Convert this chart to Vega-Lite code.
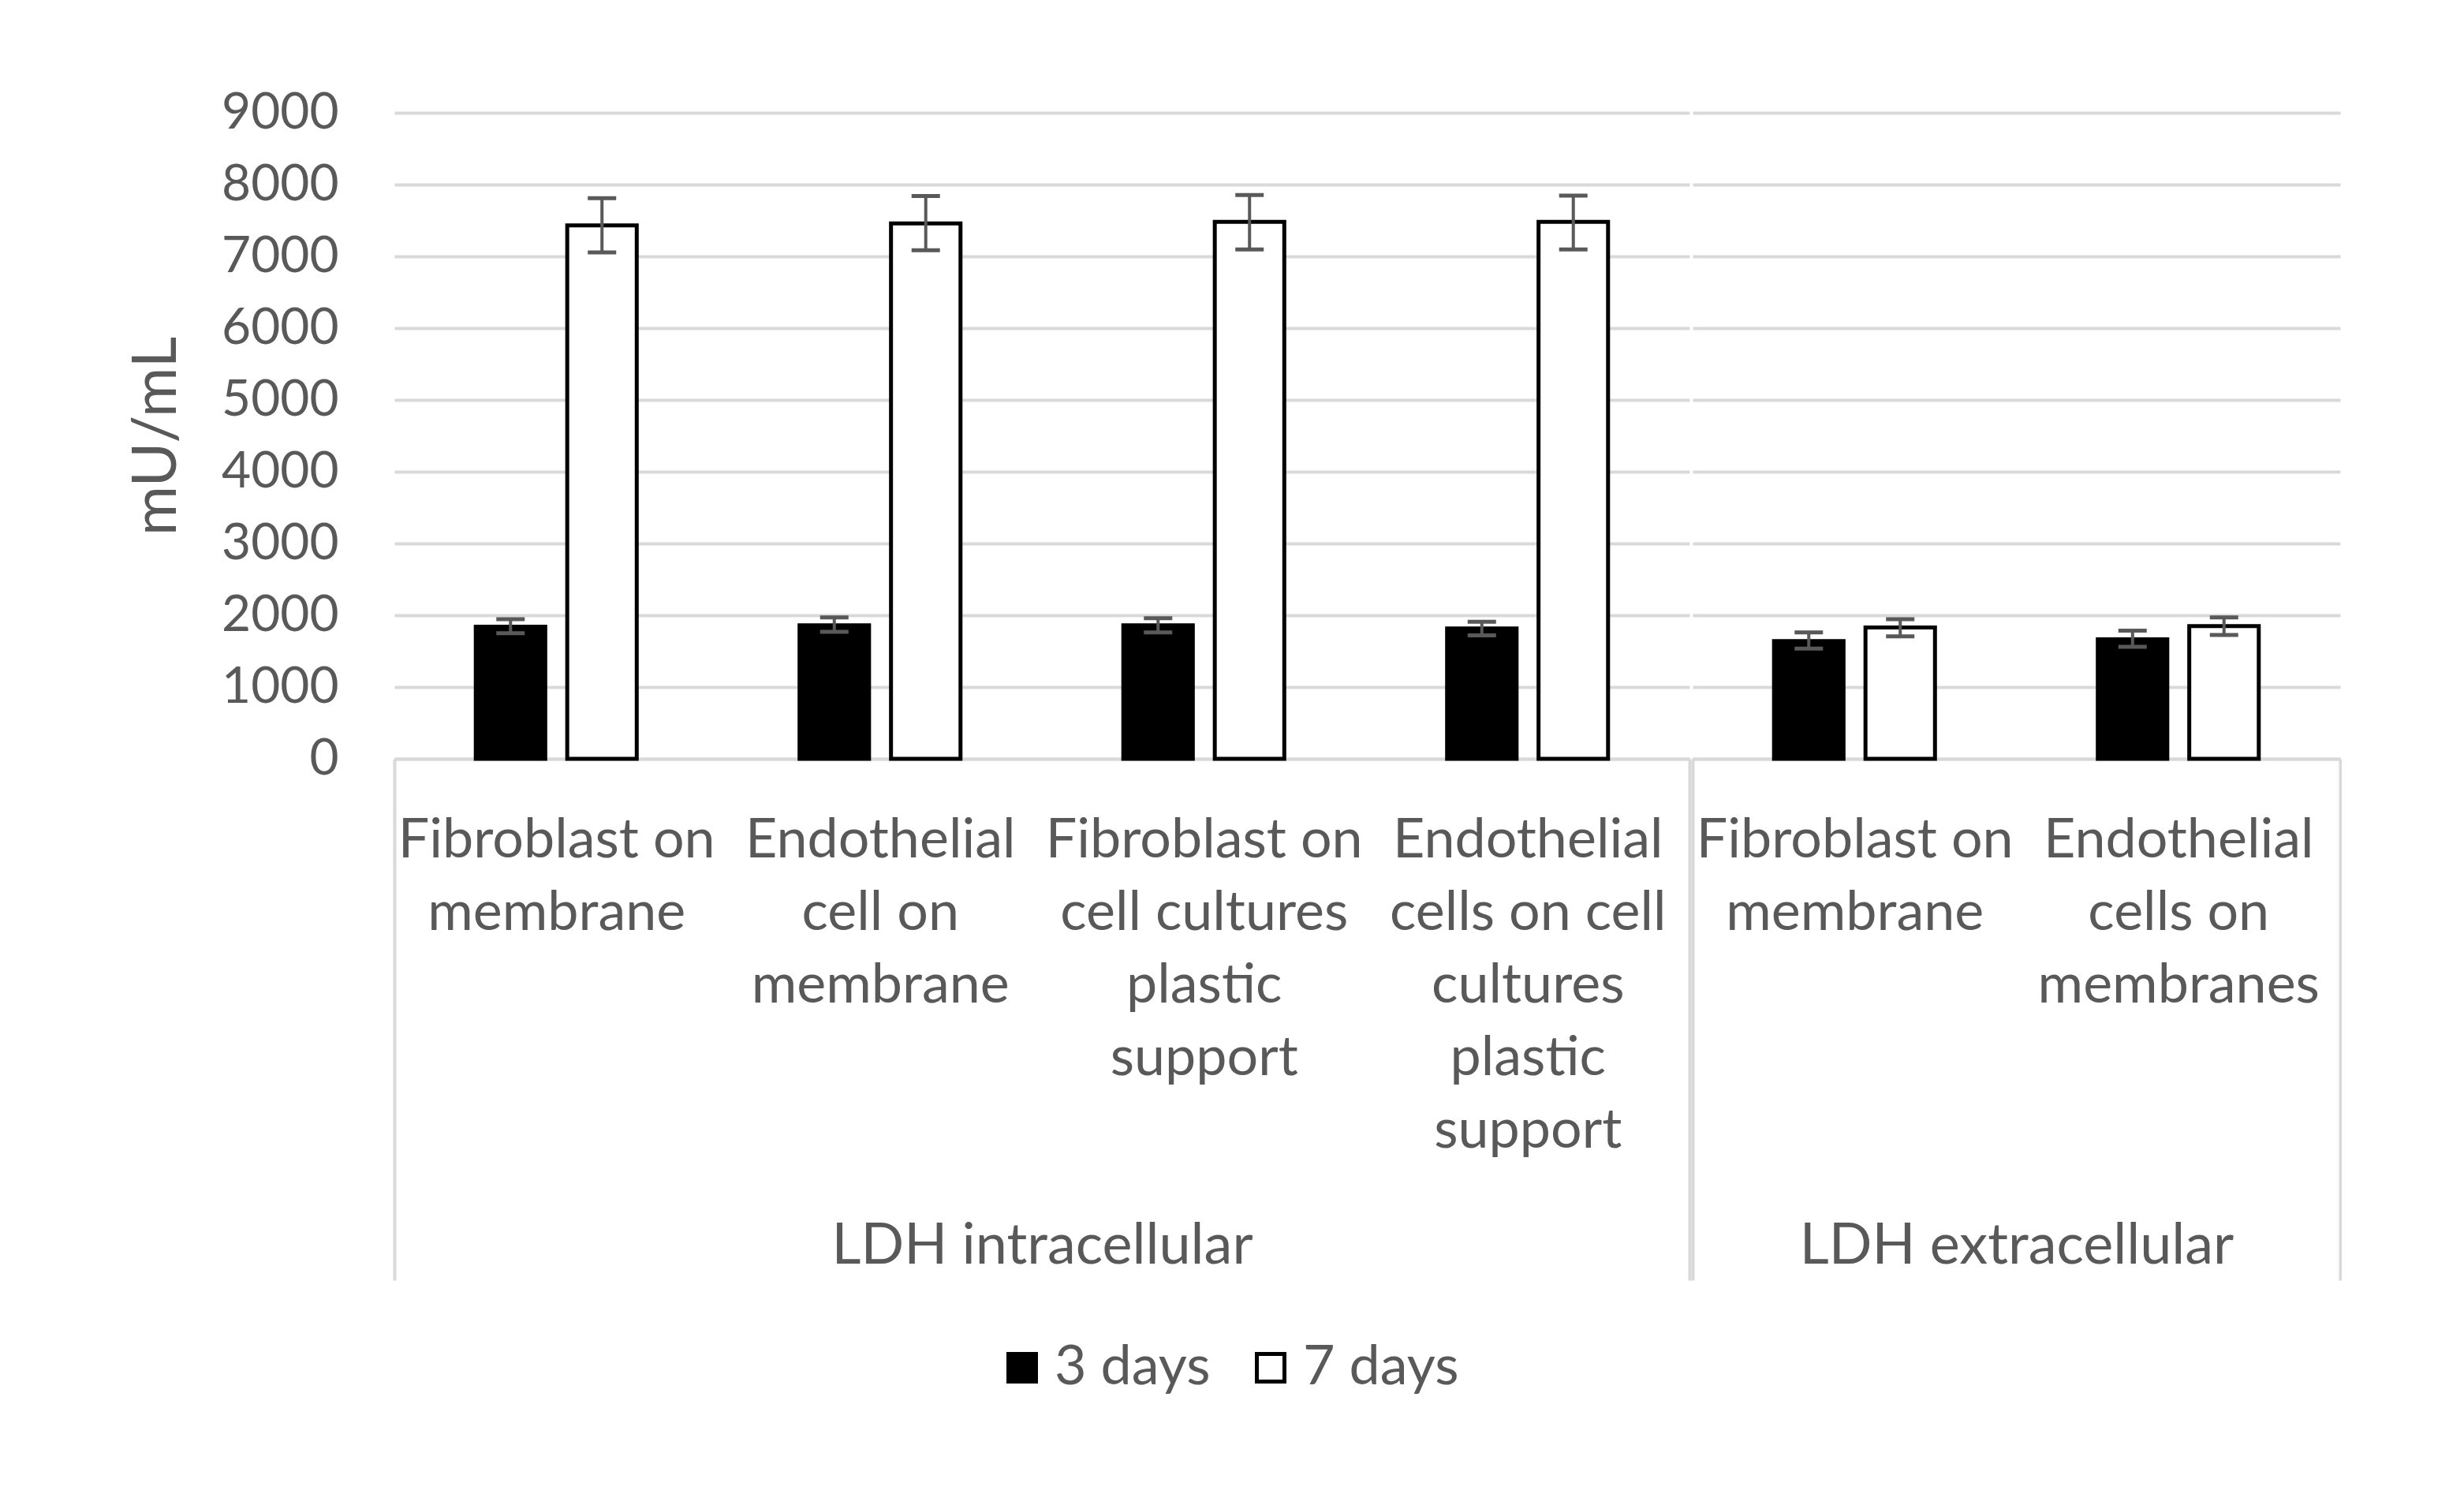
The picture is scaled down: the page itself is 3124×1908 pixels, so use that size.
{
  "$schema": "https://vega.github.io/schema/vega-lite/v6.json",
  "background": "white",
  "padding": {"left": 160, "top": 111, "right": 0, "bottom": 0},
  "data": {
    "values": [
      {"group": "LDH intracellular", "cat": "1|Fibroblast on|membrane", "series": "3 days", "value": 1840, "lower": 1750, "upper": 1945},
      {"group": "LDH intracellular", "cat": "1|Fibroblast on|membrane", "series": "7 days", "value": 7430, "lower": 7055, "upper": 7810},
      {"group": "LDH intracellular", "cat": "2|Endothelial|cell on|membrane", "series": "3 days", "value": 1860, "lower": 1770, "upper": 1970},
      {"group": "LDH intracellular", "cat": "2|Endothelial|cell on|membrane", "series": "7 days", "value": 7460, "lower": 7085, "upper": 7840},
      {"group": "LDH intracellular", "cat": "3|Fibroblast on|cell cultures|plastic|support", "series": "3 days", "value": 1860, "lower": 1760, "upper": 1960},
      {"group": "LDH intracellular", "cat": "3|Fibroblast on|cell cultures|plastic|support", "series": "7 days", "value": 7480, "lower": 7095, "upper": 7855},
      {"group": "LDH intracellular", "cat": "4|Endothelial|cells on cell|cultures|plastic|support", "series": "3 days", "value": 1815, "lower": 1720, "upper": 1910},
      {"group": "LDH intracellular", "cat": "4|Endothelial|cells on cell|cultures|plastic|support", "series": "7 days", "value": 7480, "lower": 7095, "upper": 7845},
      {"group": "LDH extracellular", "cat": "5|Fibroblast on|membrane", "series": "3 days", "value": 1640, "lower": 1535, "upper": 1760},
      {"group": "LDH extracellular", "cat": "5|Fibroblast on|membrane", "series": "7 days", "value": 1830, "lower": 1705, "upper": 1945},
      {"group": "LDH extracellular", "cat": "6|Endothelial|cells on|membranes", "series": "3 days", "value": 1665, "lower": 1560, "upper": 1785},
      {"group": "LDH extracellular", "cat": "6|Endothelial|cells on|membranes", "series": "7 days", "value": 1850, "lower": 1725, "upper": 1970}
    ]
  },
  "spacing": 0,
  "hconcat": [
    {
      "width": 1642,
      "height": 819,
      "transform": [{"filter": "datum.group === 'LDH intracellular'"}],
      "encoding": {
        "x": {
          "field": "cat", "type": "nominal", "sort": null,
          "scale": {"paddingInner": 0, "paddingOuter": 0},
          "title": "LDH intracellular",
          "axis": {
            "tickColor": {"condition": {"test": "!isValid(datum.value) || slice(datum.value, 0, 1) === '4'", "value": "#d9d9d9"}, "value": "rgba(0,0,0,0)"}
          }
        },
        "xOffset": {"field": "series", "type": "nominal", "scale": {"paddingInner": 0.24, "paddingOuter": 0.89}}
      },
      "layer": [
        {
          "mark": {"type": "bar", "stroke": "black", "strokeWidth": 5},
          "encoding": {
            "y": {"field": "value", "type": "quantitative", "scale": {"domain": [0, 9000]}, "title": "mU/mL",
                  "axis": {"values": [0, 1000, 2000, 3000, 4000, 5000, 6000, 7000, 8000, 9000], "format": "d"}},
            "fill": {"field": "series", "type": "nominal", "scale": {"domain": ["3 days", "7 days"], "range": ["#000000", "#ffffff"]}, "title": null}
          }
        },
        {
          "mark": {"type": "rule", "color": "#595959", "strokeWidth": 4},
          "encoding": {
            "y": {"field": "lower", "type": "quantitative", "title": "mU/mL",
                  "axis": {"values": [0, 1000, 2000, 3000, 4000, 5000, 6000, 7000, 8000, 9000], "format": "d"}},
            "y2": {"field": "upper"}
          }
        },
        {
          "mark": {"type": "tick", "color": "#595959", "thickness": 5, "size": 36, "opacity": 1},
          "encoding": {"y": {"field": "upper", "type": "quantitative", "title": "mU/mL",
                  "axis": {"values": [0, 1000, 2000, 3000, 4000, 5000, 6000, 7000, 8000, 9000], "format": "d"}}}
        },
        {
          "mark": {"type": "tick", "color": "#595959", "thickness": 5, "size": 36, "opacity": 1},
          "encoding": {"y": {"field": "lower", "type": "quantitative", "title": "mU/mL",
                  "axis": {"values": [0, 1000, 2000, 3000, 4000, 5000, 6000, 7000, 8000, 9000], "format": "d"}}}
        }
      ]
    },
    {
      "width": 821,
      "height": 819,
      "transform": [{"filter": "datum.group === 'LDH extracellular'"}],
      "encoding": {
        "x": {
          "field": "cat", "type": "nominal", "sort": null,
          "scale": {"paddingInner": 0, "paddingOuter": 0},
          "title": "LDH extracellular",
          "axis": {
            "tickColor": {"condition": {"test": "!isValid(datum.value) || slice(datum.value, 0, 1) === '6'", "value": "#d9d9d9"}, "value": "rgba(0,0,0,0)"}
          }
        },
        "xOffset": {"field": "series", "type": "nominal", "scale": {"paddingInner": 0.24, "paddingOuter": 0.89}}
      },
      "layer": [
        {
          "mark": {"type": "bar", "stroke": "black", "strokeWidth": 5},
          "encoding": {
            "y": {"field": "value", "type": "quantitative", "scale": {"domain": [0, 9000]}, "title": null,
                  "axis": {"labels": false, "values": [0, 1000, 2000, 3000, 4000, 5000, 6000, 7000, 8000, 9000]}},
            "fill": {"field": "series", "type": "nominal", "scale": {"domain": ["3 days", "7 days"], "range": ["#000000", "#ffffff"]}, "title": null}
          }
        },
        {
          "mark": {"type": "rule", "color": "#595959", "strokeWidth": 4},
          "encoding": {
            "y": {"field": "lower", "type": "quantitative", "title": null,
                  "axis": {"labels": false, "values": [0, 1000, 2000, 3000, 4000, 5000, 6000, 7000, 8000, 9000]}},
            "y2": {"field": "upper"}
          }
        },
        {
          "mark": {"type": "tick", "color": "#595959", "thickness": 5, "size": 36, "opacity": 1},
          "encoding": {"y": {"field": "upper", "type": "quantitative", "title": null,
                  "axis": {"labels": false, "values": [0, 1000, 2000, 3000, 4000, 5000, 6000, 7000, 8000, 9000]}}}
        },
        {
          "mark": {"type": "tick", "color": "#595959", "thickness": 5, "size": 36, "opacity": 1},
          "encoding": {"y": {"field": "lower", "type": "quantitative", "title": null,
                  "axis": {"labels": false, "values": [0, 1000, 2000, 3000, 4000, 5000, 6000, 7000, 8000, 9000]}}}
        }
      ]
    }
  ],
  "config": {
    "font": "Lato",
    "view": {"stroke": null},
    "axisY": {
      "grid": true, "gridColor": "#d9d9d9", "gridWidth": 4,
      "domain": false, "ticks": false,
      "labelFontSize": 64, "labelColor": "#595959", "labelPadding": 71, "labelLimit": 0,
      "titleFontSize": 77, "titleFontWeight": "normal", "titleColor": "#595959", "titlePadding": 62
    },
    "axisX": {
      "labelAngle": 0, "labelLimit": 0, "labelLineHeight": 92, "labelBaseline": "top",
      "labelFontSize": 70, "labelColor": "#595959",
      "labelExpr": "slice(split(datum.label, '|'), 1)",
      "tickBand": "extent", "tickSize": 661, "tickWidth": 4,
      "labelPadding": -592,
      "domainColor": "#d9d9d9", "domainWidth": 4,
      "grid": false,
      "titleFontSize": 72, "titleFontWeight": "normal", "titleColor": "#595959",
      "titleY": 617, "titleBaseline": "middle"
    },
    "legend": {
      "orient": "none", "legendX": 761, "legendY": 1556,
      "direction": "horizontal",
      "symbolType": "square", "symbolSize": 1225,
      "symbolStrokeColor": "black", "symbolStrokeWidth": 5,
      "labelFontSize": 70, "labelColor": "#595959", "labelLimit": 0,
      "labelOffset": 6, "columnPadding": 41
    }
  }
}
